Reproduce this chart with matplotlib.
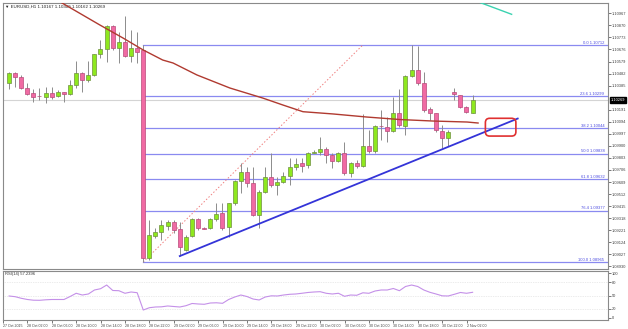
import numpy as np
import matplotlib
matplotlib.use("Agg")
import matplotlib.pyplot as plt
import matplotlib.transforms as mtransforms
from matplotlib.patches import FancyBboxPatch

plt.rcParams['font.family'] = ['Liberation Sans', 'DejaVu Sans']

# EURUSD H1 candles (index 0 = first visible bar)
opens = [1.10409, 1.10489, 1.10457, 1.10363, 1.10323, 1.10301, 1.10291, 1.10328, 1.10301, 1.10331,
         1.10318, 1.10390, 1.10484, 1.10430, 1.10470, 1.10637, 1.10677, 1.10865, 1.10685, 1.10739,
         1.10623, 1.10690, 1.10672, 1.08995, 1.09174, 1.09209, 1.09255, 1.09290, 1.09228, 1.09062,
         1.09174, 1.09309, 1.09236, 1.09236, 1.09309, 1.09357, 1.09249, 1.09438, 1.09620, 1.09692,
         1.09599, 1.09343, 1.09531, 1.09652, 1.09585, 1.09612, 1.09660, 1.09732, 1.09760, 1.09746,
         1.09845, 1.09853, 1.09872, 1.09826, 1.09781, 1.09845, 1.09679, 1.09765, 1.09738, 1.09899,
         1.09861, 1.10060, 1.10049, 1.10022, 1.10167, 1.10060, 1.10462, 1.10511, 1.10404, 1.10194,
         1.10162, 1.10022, 1.09961, 1.10336, 1.10309, 1.10215, 1.10167]
highs = [1.10497, 1.10497, 1.10470, 1.10404, 1.10355, 1.10366, 1.10376, 1.10376, 1.10350, 1.10336,
         1.10430, 1.10586, 1.10497, 1.10586, 1.10640, 1.10752, 1.10873, 1.10873, 1.10819, 1.10945,
         1.10833, 1.10819, 1.10712, 1.09303, 1.09236, 1.09303, 1.09303, 1.09303, 1.09290, 1.09182,
         1.09317, 1.09317, 1.09247, 1.09317, 1.09440, 1.09440, 1.09443, 1.09625, 1.09760, 1.09732,
         1.09732, 1.09545, 1.09732, 1.09840, 1.09652, 1.09692, 1.09800, 1.09800, 1.09800, 1.09853,
         1.09867, 1.09969, 1.09893, 1.09843, 1.09853, 1.09934, 1.09773, 1.09786, 1.10157, 1.10028,
         1.10068, 1.10189, 1.10130, 1.10296, 1.10355, 1.10470, 1.10712, 1.10704, 1.10497, 1.10215,
         1.10162, 1.10068, 1.10028, 1.10363, 1.10309, 1.10221, 1.10309]
lows = [1.10358, 1.10376, 1.10358, 1.10309, 1.10256, 1.10269, 1.10248, 1.10275, 1.10291, 1.10256,
        1.10309, 1.10363, 1.10336, 1.10417, 1.10462, 1.10607, 1.10578, 1.10672, 1.10565, 1.10618,
        1.10578, 1.10565, 1.08965, 1.08981, 1.09156, 1.09142, 1.09223, 1.09196, 1.09013, 1.09057,
        1.09169, 1.09223, 1.09231, 1.09228, 1.09298, 1.09223, 1.09169, 1.09424, 1.09523, 1.09571,
        1.09335, 1.09236, 1.09518, 1.09571, 1.09504, 1.09599, 1.09585, 1.09706, 1.09692, 1.09722,
        1.09840, 1.09826, 1.09765, 1.09722, 1.09773, 1.09665, 1.09647, 1.09722, 1.09732, 1.09840,
        1.09843, 1.09947, 1.09934, 1.10014, 1.10054, 1.09987, 1.10452, 1.10390, 1.10175, 1.10108,
        1.10014, 1.09880, 1.09899, 1.10269, 1.10202, 1.10162, 1.10162]
closes = [1.10484, 1.10452, 1.10363, 1.10315, 1.10296, 1.10299, 1.10323, 1.10296, 1.10336, 1.10315,
          1.10390, 1.10489, 1.10430, 1.10470, 1.10640, 1.10677, 1.10865, 1.10685, 1.10739, 1.10623,
          1.10690, 1.10658, 1.08995, 1.09182, 1.09209, 1.09263, 1.09290, 1.09223, 1.09088, 1.09169,
          1.09309, 1.09236, 1.09234, 1.09309, 1.09352, 1.09236, 1.09438, 1.09620, 1.09692, 1.09599,
          1.09343, 1.09531, 1.09652, 1.09585, 1.09612, 1.09660, 1.09732, 1.09752, 1.09738, 1.09845,
          1.09853, 1.09872, 1.09826, 1.09781, 1.09845, 1.09679, 1.09765, 1.09738, 1.09899, 1.09861,
          1.10060, 1.10058, 1.10022, 1.10167, 1.10068, 1.10462, 1.10511, 1.10404, 1.10189, 1.10162,
          1.10028, 1.09961, 1.10014, 1.10315, 1.10215, 1.10175, 1.10269]

# moving average (bar index, price)
ma_idx = [8, 14.9, 18.7, 22, 25.2, 26.9, 30.8, 36.2, 41.6, 44.9, 48.2, 53.1, 58.7, 64.1, 69.5, 75.1, 76.9]
ma_val = [1.11070, 1.10873, 1.10768, 1.10672, 1.10591, 1.10567, 1.10471, 1.10366, 1.10285, 1.10229,
          1.10175, 1.10157, 1.10132, 1.10112, 1.10100, 1.10092, 1.10084]

rsi = [48.9, 47.3, 43.7, 41.0, 39.4, 39.2, 40.3, 41.0, 41.0, 41.0, 47.7, 55.0, 51.1, 53.4, 62.4, 65.3,
       73.6, 61.3, 60.8, 55.0, 57.9, 56.3, 17.3, 22.5, 24.1, 24.5, 26.4, 25.2, 24.1, 27.0, 32.0, 30.9,
       30.2, 33.1, 33.6, 32.4, 41.0, 46.6, 51.1, 47.7, 42.1, 39.9, 46.6, 49.3, 48.9, 51.1, 52.7, 53.4,
       55.0, 56.8, 57.9, 58.6, 55.0, 53.4, 55.0, 48.2, 51.1, 50.5, 56.1, 55.0, 60.1, 62.4, 62.4, 65.8,
       60.8, 70.3, 73.6, 70.3, 62.4, 57.2, 53.4, 49.3, 48.9, 52.7, 56.8, 55.0, 57.2]

fib_levels = ["0.0", "23.6", "38.2", "50.0", "61.8", "76.4", "100.0"]
fib_prices = [1.10712, 1.10299, 1.10044, 1.09838, 1.09632, 1.09377, 1.08965]

y_ticks = [1.10967, 1.10870, 1.10773, 1.10676, 1.10579, 1.10482, 1.10385, 1.10191, 1.10094,
           1.09997, 1.09900, 1.09803, 1.09706, 1.09609, 1.09512, 1.09415, 1.09318, 1.09221,
           1.09124, 1.09027, 1.08930]
x_tick_idx = [-1, 3, 7, 11, 15, 19, 23, 27, 31, 35, 39, 43, 47, 51, 55, 59, 63, 67, 71, 75]
x_tick_lbl = ["27 Oct 2015", "28 Oct 02:00", "28 Oct 06:00", "28 Oct 10:00", "28 Oct 14:00",
              "28 Oct 18:00", "28 Oct 22:00", "29 Oct 02:00", "29 Oct 06:00", "29 Oct 10:00",
              "29 Oct 14:00", "29 Oct 18:00", "29 Oct 22:00", "30 Oct 02:00", "30 Oct 06:00",
              "30 Oct 10:00", "30 Oct 14:00", "30 Oct 18:00", "30 Oct 22:00", "2 Nov 02:00"]

trend_x = [28, 83.4]
trend_y = [1.09013, 1.10120]
fib_x = [22, 58]
fib_y = [1.08965, 1.10712]
teal_x = [77.0, 82.4]
teal_y = [1.11058, 1.10959]
box_x = [78.1, 83.1]
box_y = [1.09979, 1.10122]

W, H = 628, 329
fig = plt.figure(figsize=(W / 100, H / 100), dpi=100)
ax = fig.add_axes([3 / W, (H - 269) / H, 605 / W, 266 / H])
ax2 = fig.add_axes([3 / W, (H - 320) / H, 605 / W, 49 / H])

xlim = (-0.98, 98.2)
ax.set_xlim(*xlim)
ax.set_ylim(1.08909, 1.11050)

idx = np.arange(len(opens))
o = np.array(opens); c = np.array(closes)
up = c >= o

# current price line
ax.axhline(closes[-1], color='#d4d4d4', lw=0.8, zorder=1)

# fib levels
for lvl, p in zip(fib_levels, fib_prices):
    ax.plot([22, xlim[1]], [p, p], color='#8a8af0', lw=0.9, zorder=2)
    ax.text(97.6, p + 0.00003, f"{lvl} {p:.5f}", ha='right', va='bottom',
            fontsize=3.0, color='#4a4ae0', zorder=5)
ax.plot(fib_x, fib_y, color='#f08080', lw=0.7, ls=(0, (1.5, 2)), zorder=2)

# candles
ax.vlines(idx, lows, highs, color='#8c8c8c', lw=0.7, zorder=3)
body_h = np.maximum(np.abs(c - o), 0.00002)
body_b = np.minimum(o, c)
ax.bar(idx[up], body_h[up], bottom=body_b[up], width=0.65, color='#8ee81e',
       edgecolor='#6f8f40', lw=0.5, zorder=4)
ax.bar(idx[~up], body_h[~up], bottom=body_b[~up], width=0.65, color='#f06aa3',
       edgecolor='#b84a7a', lw=0.5, zorder=4)

# moving average
ax.plot(ma_idx, ma_val, color='#b03a30', lw=1.0, zorder=5)

# drawn lines
ax.plot(trend_x, trend_y, color='#3434d8', lw=1.3, zorder=6)
ax.plot(teal_x, teal_y, color='#3ad2b0', lw=1.0, zorder=6)
asp = (0.0000805 / (1 / 6.1))
box = FancyBboxPatch((box_x[0], box_y[0]), box_x[1] - box_x[0], box_y[1] - box_y[0],
                     boxstyle="round,pad=0,rounding_size=0.7", mutation_aspect=asp,
                     fill=False, edgecolor='#e03030', lw=1.2, zorder=7)
ax.add_patch(box)

ax.text(0.004, 0.994, "\u25bc EURUSD,H1 %.5f %.5f %.5f %.5f" % (opens[-1], highs[-1], lows[-1], closes[-1]),
        transform=ax.transAxes, ha='left', va='top', fontsize=3.2, color='#202020')

# price axis
ax.yaxis.tick_right()
ax.set_yticks(y_ticks)
ax.set_yticklabels([f"{v:.5f}" for v in y_ticks])
ax.tick_params(axis='y', labelsize=2.9, length=2, width=0.5, pad=1, colors='#404040')
ax.set_xticks([])
trans = mtransforms.blended_transform_factory(ax.transAxes, ax.transData)
ax.text(1.005, closes[-1], f"{closes[-1]:.5f}", transform=trans, ha='left', va='center',
        fontsize=2.9, color='white', bbox=dict(boxstyle='square,pad=0.2', fc='black', ec='black'))

for a in (ax, ax2):
    for s in a.spines.values():
        s.set_color('#8a8a8a')
        s.set_linewidth(0.8)

# RSI panel
ax2.set_xlim(*xlim)
ax2.set_ylim(-5.2, 105.2)
for lv in (80, 50, 20):
    ax2.axhline(lv, color='#d8d8d8', lw=0.5, ls=(0, (1, 1.5)))
ax2.plot(idx, rsi, color='#c490e8', lw=0.8)
ax2.text(0.004, 0.97, "RSI(14) %.4f" % 57.2396, transform=ax2.transAxes, ha='left', va='top',
         fontsize=3.0, color='#303030')
ax2.yaxis.tick_right()
ax2.set_yticks([100, 80, 50, 20, 0])
ax2.tick_params(axis='y', labelsize=2.9, length=2, width=0.5, pad=1, colors='#404040')
ax2.set_xticks(x_tick_idx)
ax2.set_xticklabels(x_tick_lbl)
ax2.tick_params(axis='x', labelsize=2.6, length=2, width=0.5, pad=1, colors='#404040')
for t in ax2.get_xticklabels():
    t.set_horizontalalignment('left')

fig.savefig("out.png", dpi=100, facecolor='white')
